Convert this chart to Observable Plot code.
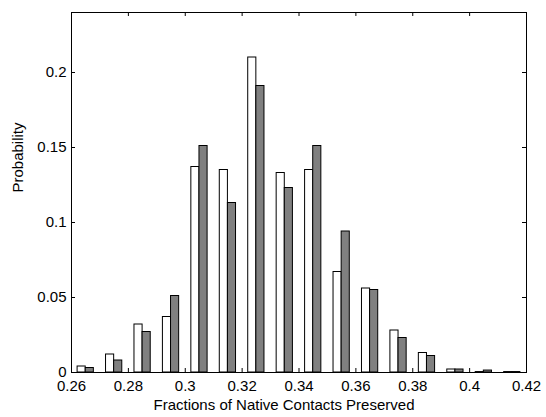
<!DOCTYPE html>
<html>
<head>
<meta charset="utf-8">
<script src="https://cdn.jsdelivr.net/npm/d3@7"></script>
<script src="https://cdn.jsdelivr.net/npm/@observablehq/plot@0.6"></script>
<style>
  html, body { margin: 0; padding: 0; background: white; }
</style>
</head>
<body>
<div id="chart"></div>
<script>
// Bin centres (fraction of native contacts preserved)
const binCenters = [0.265, 0.275, 0.285, 0.295, 0.305, 0.315, 0.325, 0.335, 0.345, 0.355, 0.365, 0.375, 0.385, 0.395, 0.405, 0.415];
// Series 1 (white bars)
const whiteValues = [0.004, 0.012, 0.032, 0.037, 0.137, 0.135, 0.210, 0.133, 0.135, 0.067, 0.056, 0.028, 0.013, 0.002, 0.0003, 0.0003];
// Series 2 (gray bars)
const grayValues = [0.003, 0.008, 0.027, 0.051, 0.151, 0.113, 0.191, 0.123, 0.151, 0.094, 0.055, 0.023, 0.011, 0.002, 0.0013, 0.0003];
// Tick values and labels
const xTicks = [0.26, 0.28, 0.30, 0.32, 0.34, 0.36, 0.38, 0.40, 0.42];
const xTickLabels = ["0.26", "0.28", "0.3", "0.32", "0.34", "0.36", "0.38", "0.4", "0.42"];
const yTicks = [0, 0.05, 0.10, 0.15, 0.20];
const yTickLabels = ["0", "0.05", "0.1", "0.15", "0.2"];
const xLabel = "Fractions of Native Contacts Preserved";
const yLabel = "Probability";

const binStep = 0.01;
const barWidth = binStep * 0.2857;

const rows = [];
binCenters.forEach((c, i) => {
  rows.push({series: "white", x1: c - barWidth, x2: c, value: whiteValues[i]});
  rows.push({series: "gray", x1: c, x2: c + barWidth, value: grayValues[i]});
});

const W = 546, H = 417;
const mL = 71, mR = 20, mT = 12, mB = 45;
const plotW = W - mL - mR, plotH = H - mT - mB;
const tick = 4;

const chart = Plot.plot({
  width: W,
  height: H,
  marginLeft: mL,
  marginRight: mR,
  marginTop: mT,
  marginBottom: mB,
  style: {fontFamily: "'Liberation Sans', Arial, sans-serif", fontSize: "15px", background: "white", color: "black"},
  x: {domain: [0.26, 0.42]},
  y: {domain: [0, 0.24]},
  marks: [
    Plot.rect(rows, {
      x1: "x1", x2: "x2", y1: 0, y2: "value",
      fill: d => d.series === "white" ? "#ffffff" : "#808080",
      stroke: "black", strokeWidth: 1
    }),
    // inward ticks, bottom & top
    Plot.tickX(xTicks, {x: d => d, insetTop: plotH - tick, stroke: "black"}),
    Plot.tickX(xTicks, {x: d => d, insetBottom: plotH - tick, stroke: "black"}),
    // inward ticks, left & right
    Plot.tickY(yTicks, {y: d => d, insetRight: plotW - tick, stroke: "black"}),
    Plot.tickY(yTicks, {y: d => d, insetLeft: plotW - tick, stroke: "black"}),
    Plot.axisX({ticks: xTicks, tickFormat: (d) => xTickLabels[xTicks.indexOf(d)], tickSize: 0, tickPadding: 8, label: null}),
    Plot.axisY({ticks: yTicks, tickFormat: (d) => yTickLabels[yTicks.indexOf(d)], tickSize: 0, tickPadding: 5, label: null}),
    Plot.text([xLabel], {text: d => d, frameAnchor: "bottom", dx: -15, dy: 27, lineAnchor: "top", fontSize: 15}),
    Plot.text([yLabel], {text: d => d, frameAnchor: "left", dx: -59, rotate: -90, lineAnchor: "top", fontSize: 15}),
    Plot.frame({stroke: "black", strokeWidth: 1})
  ]
});

document.getElementById("chart").appendChild(chart);
</script>
</body>
</html>
